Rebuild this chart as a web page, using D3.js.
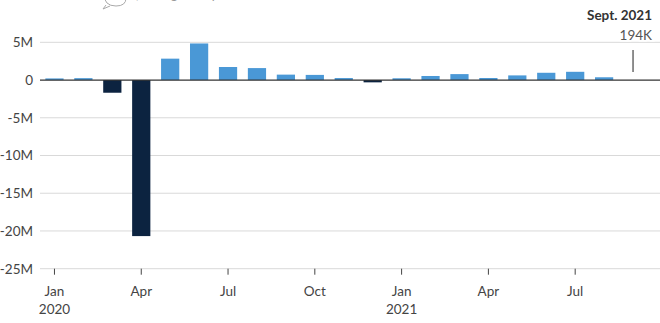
<!DOCTYPE html>
<html><head><meta charset="utf-8">
<script src="https://cdn.jsdelivr.net/npm/d3@7"></script>
<style>
html,body{margin:0;padding:0;background:#fff;}
svg{display:block;font-family:Lato,"Open Sans",sans-serif;}
</style></head>
<body><svg id="c" width="660" height="323"></svg>
<script>
// Monthly change in nonfarm payrolls (thousands)
const months = ["2020-01","2020-02","2020-03","2020-04","2020-05","2020-06","2020-07","2020-08","2020-09","2020-10","2020-11","2020-12",
  "2021-01","2021-02","2021-03","2021-04","2021-05","2021-06","2021-07","2021-08","2021-09"];
const values = [214,251,-1683,-20679,2833,4846,1726,1583,716,680,264,-306,
  233,536,785,269,614,962,1091,366,194];
const yTicks = [5000,0,-5000,-10000,-15000,-20000,-25000];
const yTickLabels = ["5M","0","-5M","-10M","-15M","-20M","-25M"];
const xTickMonths = ["2020-01","2020-04","2020-07","2020-10","2021-01","2021-04","2021-07"];
const xTickLabels = ["Jan","Apr","Jul","Oct","Jan","Apr","Jul"];
const xTickYears = ["2020","","","","2021","",""];
const annotation = {month:"2021-09", title:"Sept. 2021", label:"194K"};

const svg = d3.select("#c");
const x = d3.scaleBand().domain(months).range([40,647.5]).paddingInner(0.37).paddingOuter(0.185);
const y = d3.scaleLinear().domain([-25000,5000]).range([268.7,42.3]);

// faint cut-off header
const hdr = svg.append("g").attr("fill","none").attr("stroke","#aaa").attr("stroke-width",1);
hdr.append("path").attr("d","M104,-6 Q104,6 116,6 Q126,6 126,-2");
hdr.append("path").attr("d","M106,5 L103,9 L110,6");
svg.append("text").attr("x",136).attr("y",-1).attr("fill","#999").attr("font-size",13)
  .text(", Jobs gained per month");

// gridlines
svg.append("g").selectAll("line").data(yTicks.filter(d=>d!==0)).join("line")
  .attr("x1",40).attr("x2",660).attr("y1",d=>y(d)).attr("y2",d=>y(d))
  .attr("stroke","#d9d9d9").attr("stroke-width",1);

// y labels
svg.append("g").selectAll("text").data(yTicks).join("text")
  .attr("x",33).attr("y",d=>y(d)).attr("dy","0.36em").attr("text-anchor","end")
  .attr("fill","#444").attr("font-size",13.5).text((d,i)=>yTickLabels[i]);

// bars (Sept 2021 shown as annotation)
const barData = months.map((m,i)=>({m,v:values[i]})).filter(d=>d.m!==annotation.month);
svg.append("g").selectAll("rect").data(barData).join("rect")
  .attr("x",d=>x(d.m)).attr("width",x.bandwidth())
  .attr("y",d=>y(Math.max(0,d.v))).attr("height",d=>Math.abs(y(d.v)-y(0)))
  .attr("fill",d=>d.v<0?"#0c2340":"#4a98d6");

// zero line
svg.append("line").attr("x1",40).attr("x2",660).attr("y1",y(0)).attr("y2",y(0))
  .attr("stroke","#333").attr("stroke-width",1.3);

// bottom axis ticks
const cx = m => x(m)+x.bandwidth()/2;
svg.append("g").selectAll("line").data(xTickMonths).join("line")
  .attr("x1",d=>cx(d)).attr("x2",d=>cx(d)).attr("y1",y(-25000)).attr("y2",y(-25000)+6)
  .attr("stroke","#444").attr("stroke-width",1);
svg.append("g").selectAll("text").data(xTickMonths).join("text")
  .attr("x",d=>cx(d)).attr("y",296).attr("text-anchor","middle")
  .attr("fill","#444").attr("font-size",13.5).text((d,i)=>xTickLabels[i]);
svg.append("g").selectAll("text").data(xTickMonths).join("text")
  .attr("x",d=>cx(d)).attr("y",314).attr("text-anchor","middle")
  .attr("fill","#444").attr("font-size",13.5).text((d,i)=>xTickYears[i]);

// annotation
const ax = cx(annotation.month);
svg.append("line").attr("x1",ax).attr("x2",ax).attr("y1",50).attr("y2",72)
  .attr("stroke","#444").attr("stroke-width",1.2);
svg.append("text").attr("x",652).attr("y",20).attr("text-anchor","end")
  .attr("fill","#333").attr("font-weight","bold").attr("font-size",13.5).text(annotation.title);
svg.append("text").attr("x",652).attr("y",40).attr("text-anchor","end")
  .attr("fill","#555").attr("font-size",13.5)
  .attr("stroke","#fff").attr("stroke-width",3).attr("paint-order","stroke").text(annotation.label);
</script></body></html>
